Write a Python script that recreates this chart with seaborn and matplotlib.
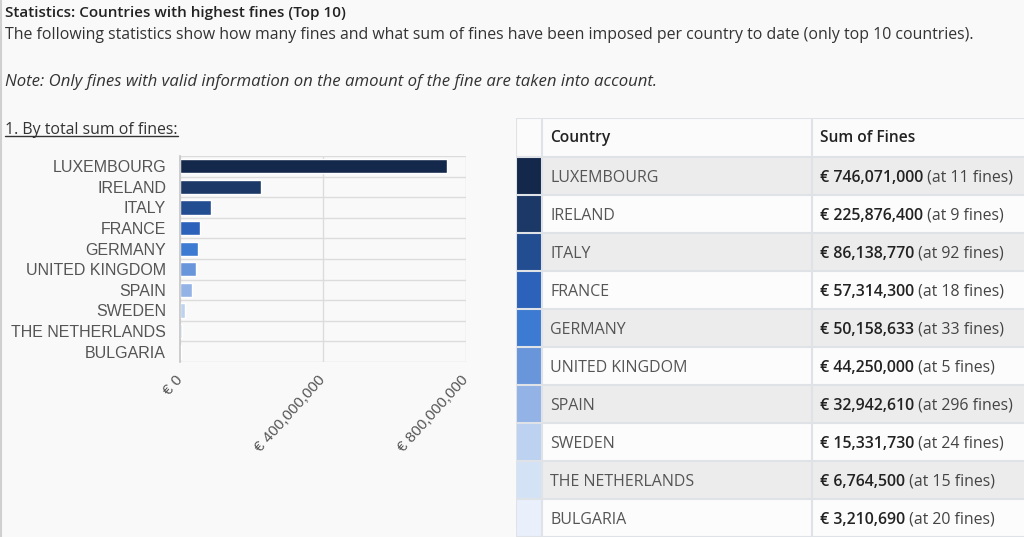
import matplotlib
matplotlib.use("Agg")
import numpy as np
import pandas as pd
import matplotlib.pyplot as plt
import seaborn as sns
from matplotlib.patches import Rectangle
from matplotlib.lines import Line2D
from matplotlib.ticker import FuncFormatter

# Data
countries = ["LUXEMBOURG", "IRELAND", "ITALY", "FRANCE", "GERMANY",
             "UNITED KINGDOM", "SPAIN", "SWEDEN", "THE NETHERLANDS", "BULGARIA"]
sums = [746071000, 225876400, 86138770, 57314300, 50158633,
        44250000, 32942610, 15331730, 6764500, 3210690]
fine_counts = [11, 9, 92, 18, 33, 5, 296, 24, 15, 20]
bar_colors = ["#14284b", "#1b3867", "#234d91", "#2c62b9", "#3d7ad2",
              "#6996da", "#93b2e5", "#bcd2f0", "#d4e2f6", "#e9f0fb"]
x_ticks = [0, 400000000, 800000000]

BG = "#f9f9f9"
GRID = "#dcdcdc"
BORDER = "#dfe2e6"

sns.set_theme(style="white")
plt.rcParams['font.family'] = ['Open Sans', 'DejaVu Sans']

W, H = 1024, 537
fig = plt.figure(figsize=(W / 100, H / 100), dpi=100, facecolor=BG)


def fx(px):
    return px / W


def fy(py):
    return 1 - py / H


# page texts
fig.text(fx(5), fy(13), "Statistics: Countries with highest fines (Top 10)",
         fontsize=11, fontweight='semibold', color='#222', va='center')
fig.text(fx(5), fy(35), "The following statistics show how many fines and what sum of fines "
         "have been imposed per country to date (only top 10 countries).",
         fontsize=11.4, color='#333', va='center')
fig.text(fx(5), fy(82), "Note: Only fines with valid information on the amount of the fine "
         "are taken into account.", fontsize=12.1, style='italic', color='#333', va='center')
sub = fig.text(fx(5), fy(130), "1. By total sum of fines:", fontsize=11.4, color='#333', va='center')

renderer = fig.canvas.get_renderer()
bb = sub.get_window_extent(renderer)
fig.add_artist(Line2D([bb.x0 / W, bb.x1 / W], [(bb.y0 + 2) / H, (bb.y0 + 2) / H],
                      transform=fig.transFigure, color='#333', lw=1))
# thin page border on the left
fig.add_artist(Line2D([0.001, 0.001], [0, 1], transform=fig.transFigure, color='#d0d0d0', lw=1.5))

# bar chart
df = pd.DataFrame({"country": countries, "sum": sums})
ax = fig.add_axes([fx(180), fy(362), fx(466) - fx(180), fy(156) - fy(362)])
ax.set_facecolor(BG)
sns.barplot(data=df, x="sum", y="country", hue="country", palette=bar_colors,
            legend=False, width=0.68, saturation=1, ax=ax)
ax.set_xlim(0, 800000000)
ax.set_ylim(9.5, -0.5)
ax.set_xlabel("")
ax.set_ylabel("")
ax.set_axisbelow(True)
ax.set_xticks(x_ticks)
ax.xaxis.set_major_formatter(FuncFormatter(lambda v, p: "€ {:,.0f}".format(v)))
ax.set_yticks(np.arange(-0.5, len(countries)), minor=True)
ax.grid(True, which='minor', axis='y', color=GRID, lw=1)
ax.grid(True, which='major', axis='x', color=GRID, lw=1)
ax.tick_params(axis='y', which='major', length=0, pad=10, labelsize=11.5, labelcolor='#555')
ax.tick_params(axis='y', which='minor', length=10, color=GRID, width=1)
ax.tick_params(axis='x', length=7, color=GRID, width=1, pad=4, labelsize=11, labelcolor='#555')
for lbl in ax.get_yticklabels():
    lbl.set_fontfamily(['Liberation Sans', 'DejaVu Sans'])
    lbl.set_va('center_baseline')
for lbl in ax.get_xticklabels():
    lbl.set_fontfamily(['Liberation Sans', 'DejaVu Sans'])
    lbl.set_rotation(48)
    lbl.set_ha('right')
    lbl.set_va('center')
    lbl.set_rotation_mode('anchor')
for s in ['top', 'right', 'bottom']:
    ax.spines[s].set_visible(False)
ax.spines['left'].set_color('#c8c8c8')

# table
tax = fig.add_axes([fx(516), 0, 1 - fx(516), fy(118)])
tax.set_xlim(516, 1024)
tax.set_ylim(537, 118)
tax.axis('off')

ROW_H = 38
TOP = 157
tax.add_patch(Rectangle((516, 118), 508, TOP - 118, fc='#fbfbfb', ec='none'))
tax.text(550, 138, "Country", fontsize=11.2, fontweight='semibold', color='#222', va='center')
tax.text(820, 138, "Sum of Fines", fontsize=11.2, fontweight='semibold', color='#222', va='center')

for i, (c, s, n, col) in enumerate(zip(countries, sums, fine_counts, bar_colors)):
    y0 = TOP + ROW_H * i
    tax.add_patch(Rectangle((542, y0), 482, ROW_H, fc='#ececec' if i % 2 == 0 else '#fcfcfc', ec='none'))
    tax.add_patch(Rectangle((517, y0 + 1), 24, ROW_H - 2, fc=col, ec='none'))
    yc = y0 + ROW_H / 2 + 1.5
    tax.text(550, yc, c, fontsize=11.5, color='#555', va='center')
    bt = tax.text(820, yc, "€ {:,}".format(s), fontsize=11.4, fontweight='semibold', color='#222', va='center')
    tax.annotate(" (at {} fines)".format(n), xy=(1, 0.5), xycoords=bt, fontsize=11.4,
                 color='#444', va='center', ha='left')

for y in [118] + [TOP + ROW_H * i for i in range(len(countries) + 1)]:
    tax.plot([516, 1024], [y, y], color=BORDER, lw=1.5, solid_capstyle='butt')
for x in [516, 542, 812]:
    tax.plot([x, x], [118, 537], color=BORDER, lw=1.5, solid_capstyle='butt')

fig.savefig("out.png", dpi=100, facecolor=BG)
